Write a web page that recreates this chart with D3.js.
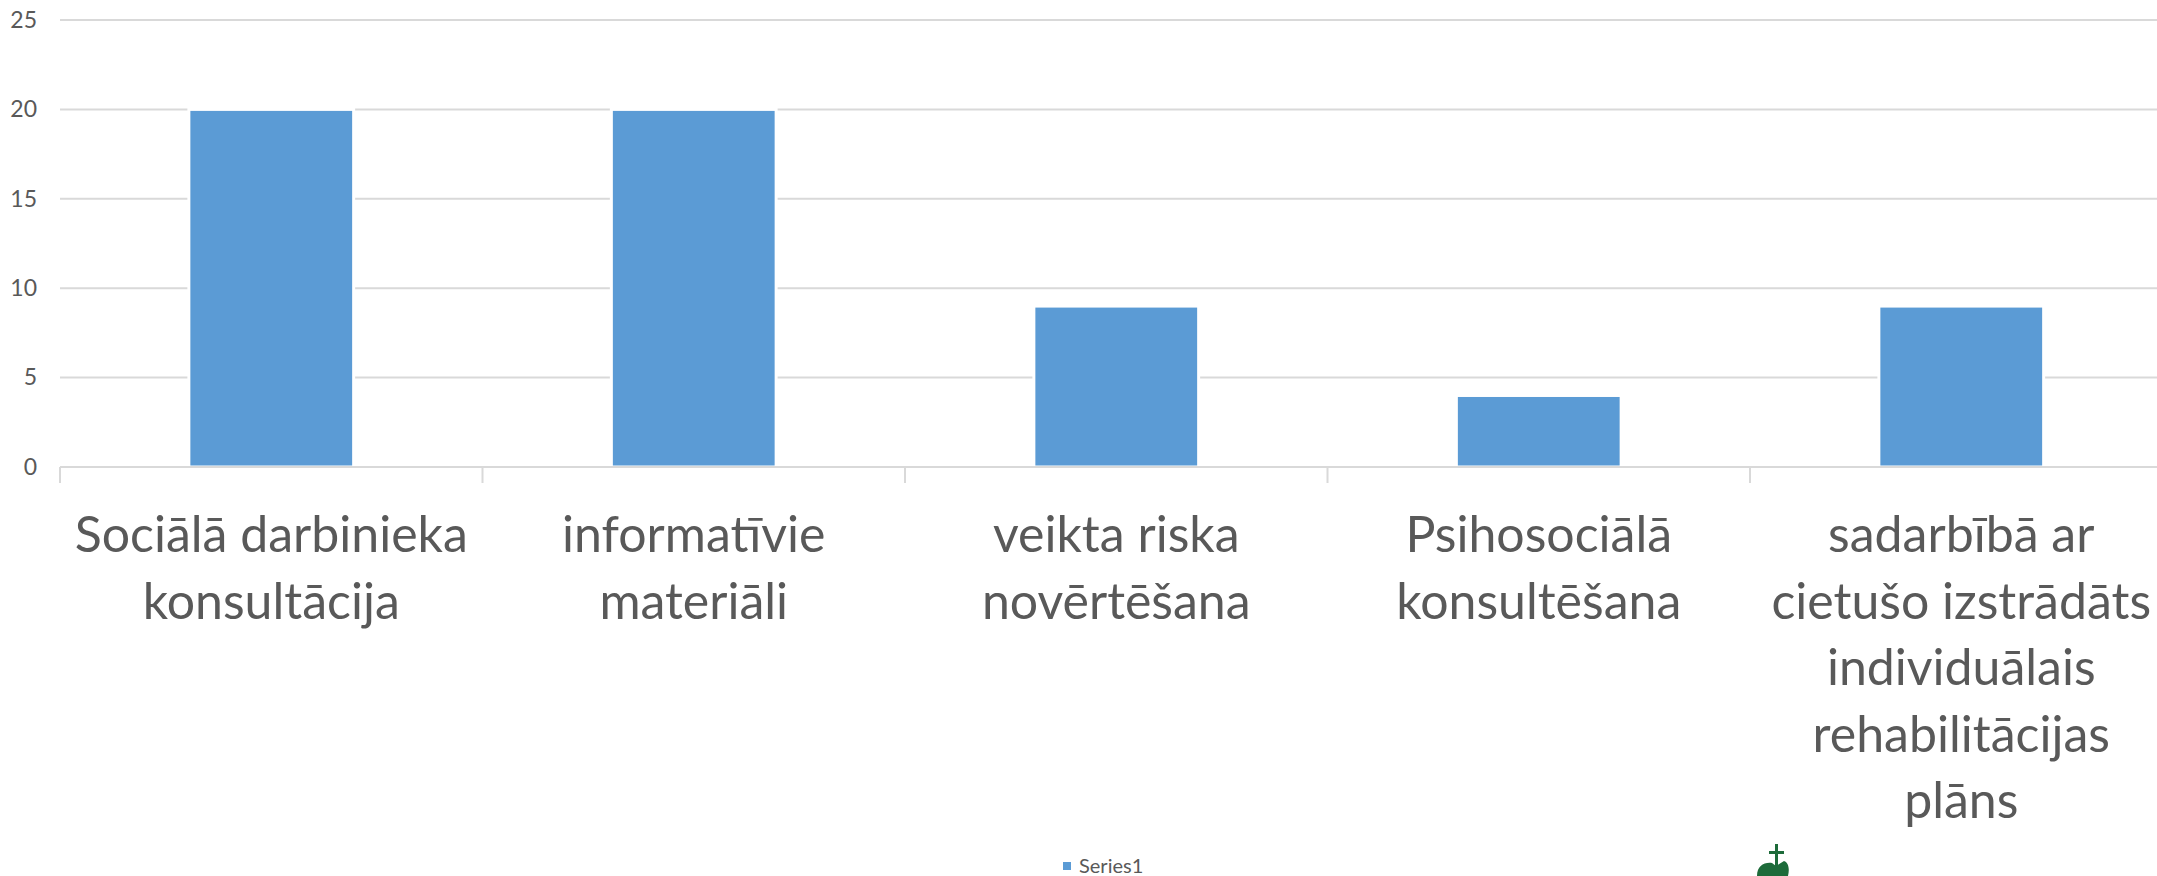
<!DOCTYPE html>
<html>
<head>
<meta charset="utf-8">
<script src="https://cdn.jsdelivr.net/npm/d3@7/dist/d3.min.js"></script>
<style>
  html, body { margin: 0; padding: 0; background: #fff; }
  svg { display: block; }
  text { font-family: Lato, "Open Sans", sans-serif; fill: #595959; }
</style>
</head>
<body>
<svg id="chart" width="2157" height="876"></svg>
<script>
const categories = [
  "Sociālā darbinieka\nkonsultācija",
  "informatīvie\nmateriāli",
  "veikta riska\nnovērtēšana",
  "Psihosociālā\nkonsultēšana",
  "sadarbībā ar\ncietušo izstrādāts\nindividuālais\nrehabilitācijas\nplāns"
];
const seriesName = "Series1";
const values = [20, 20, 9, 4, 9];
const yTicks = [0, 5, 10, 15, 20, 25];

const W = 2157, H = 876;
const svg = d3.select("#chart");
const plot = { left: 60, right: 2172.5, top: 20, bottom: 467 };

const x = d3.scaleBand().domain(categories).range([plot.left, plot.right]).padding(0);
const y = d3.scaleLinear().domain([0, 25]).range([plot.bottom, plot.top]);

// gridlines
svg.append("g").selectAll("line").data(yTicks.filter(d => d > 0)).join("line")
  .attr("x1", plot.left).attr("x2", plot.right)
  .attr("y1", d => y(d)).attr("y2", d => y(d))
  .attr("stroke", "#d9d9d9").attr("stroke-width", 2);

// y axis labels
const yAxis = d3.axisLeft(y).tickValues(yTicks).tickSize(0).tickPadding(0);
const gy = svg.append("g").attr("transform", "translate(37,0)").call(yAxis);
gy.select(".domain").remove();
gy.selectAll("text")
  .style("font-size", "23px").style("fill", "#595959")
  .style("font-family", "Lato, 'Open Sans', sans-serif");

// bars
const barW = x.bandwidth() * 0.39;
svg.append("g").selectAll("rect").data(values).join("rect")
  .attr("x", (d, i) => x(categories[i]) + (x.bandwidth() - barW) / 2)
  .attr("width", barW)
  .attr("y", d => y(d))
  .attr("height", d => y(0) - y(d))
  .attr("fill", "#5b9bd5")
  .attr("stroke", "#ffffff").attr("stroke-width", 3);

// x axis
const xAxis = d3.axisBottom(x).tickSize(0).tickFormat("");
const gx = svg.append("g").attr("transform", `translate(0,${plot.bottom})`).call(xAxis);
gx.select(".domain").attr("stroke", "#d9d9d9").attr("stroke-width", 2)
  .attr("d", `M${plot.left},0H${plot.right}`);
// boundary ticks
const bounds = categories.map(c => x(c));
gx.selectAll(".bound").data(bounds).join("line").attr("class", "bound")
  .attr("x1", d => d).attr("x2", d => d).attr("y1", 0).attr("y2", 16)
  .attr("stroke", "#d9d9d9").attr("stroke-width", 2);

// category labels
const lab = svg.append("g");
categories.forEach(c => {
  const t = lab.append("text")
    .attr("x", x(c) + x.bandwidth() / 2)
    .attr("y", 552)
    .attr("text-anchor", "middle")
    .style("font-size", "50px");
  c.split("\n").forEach((line, i) => {
    t.append("tspan").attr("x", x(c) + x.bandwidth() / 2)
      .attr("dy", i === 0 ? 0 : 66.5).text(line);
  });
});

// legend
const lg = svg.append("g");
lg.append("rect").attr("x", 1063).attr("y", 862).attr("width", 8).attr("height", 8).attr("fill", "#5b9bd5");
lg.append("text").attr("x", 1079).attr("y", 872.5).style("font-size", "20px").text(seriesName);

// small green emblem (decoration)
const em = svg.append("g").attr("fill", "#1d6b3a");
em.append("rect").attr("x", 1775).attr("y", 844).attr("width", 3).attr("height", 24);
em.append("rect").attr("x", 1769).attr("y", 851).attr("width", 15).attr("height", 3);
em.append("path").attr("d", "M1757,876 C1757,866 1764,862 1772,863 L1776,866 L1784,861 C1788,862 1790,868 1788,876 Z");
</script>
</body>
</html>
